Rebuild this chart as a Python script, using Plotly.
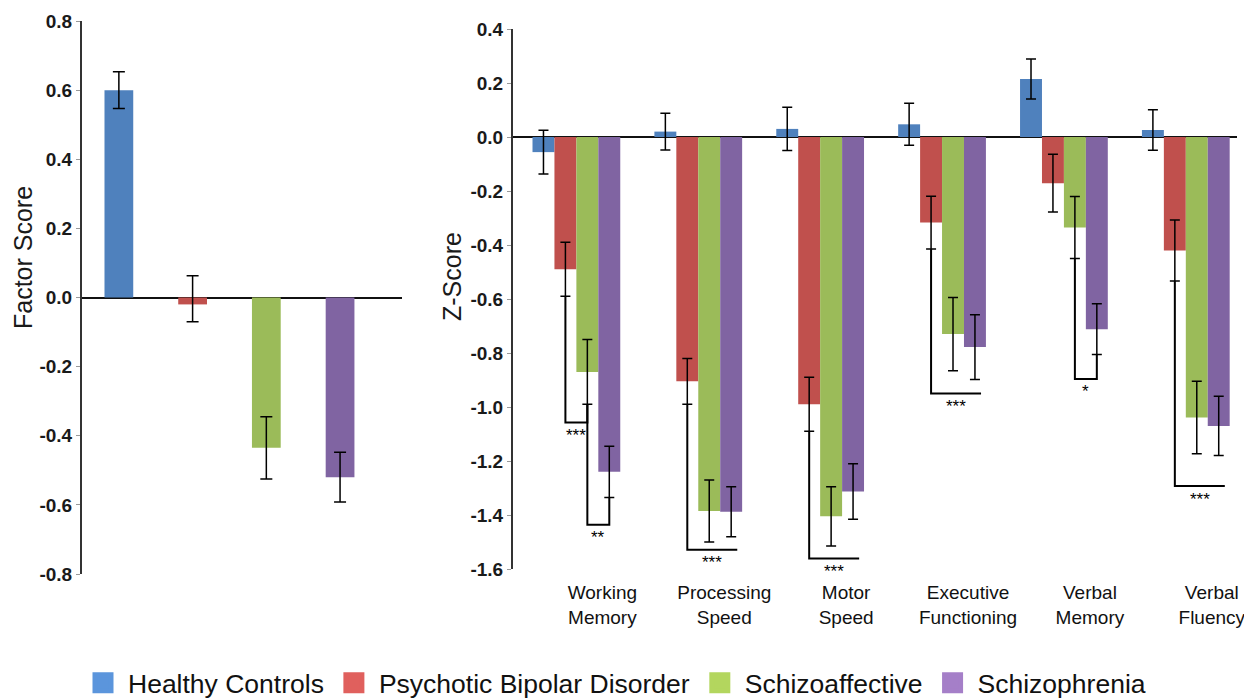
import plotly.graph_objects as go

# ---------------- data ----------------
groups = ["Healthy Controls", "Psychotic Bipolar Disorder", "Schizoaffective", "Schizophrenia"]
bar_colors = ["#4f81bd", "#c0504d", "#9bbb59", "#8064a2"]
legend_colors = ["#5b95dc", "#e0605d", "#b3d65e", "#a57fc8"]

# left panel: factor scores
factor_scores = [0.60, -0.02, -0.435, -0.52]
factor_err_plus = [0.053, 0.083, 0.09, 0.072]
factor_err_minus = [0.053, 0.05, 0.09, 0.072]
factor_ticks = [0.8, 0.6, 0.4, 0.2, 0.0, -0.2, -0.4, -0.6, -0.8]

# right panel: domain z-scores
domains = ["Working<br>Memory", "Processing<br>Speed", "Motor<br>Speed",
           "Executive<br>Functioning", "Verbal<br>Memory", "Verbal<br>Fluency"]
z_healthy = [-0.056, 0.02, 0.03, 0.047, 0.215, 0.026]
z_healthy_err = [0.081, 0.068, 0.08, 0.078, 0.074, 0.075]
z_bipolar = [-0.49, -0.905, -0.99, -0.317, -0.171, -0.42]
z_bipolar_err = [0.10, 0.085, 0.10, 0.098, 0.107, 0.113]
z_schizoaff = [-0.87, -1.385, -1.405, -0.73, -0.335, -1.039]
z_schizoaff_err = [0.12, 0.115, 0.11, 0.136, 0.115, 0.134]
z_schizo = [-1.24, -1.388, -1.313, -0.778, -0.712, -1.07]
z_schizo_err = [0.095, 0.093, 0.103, 0.12, 0.094, 0.11]
z_ticks = [0.4, 0.2, 0.0, -0.2, -0.4, -0.6, -0.8, -1.0, -1.2, -1.4, -1.6]

# significance brackets (domain index, from group, to group, bracket level, label, closed)
sig_domain = [0, 0, 1, 2, 3, 4, 5]
sig_from = [1, 2, 1, 1, 1, 2, 1]
sig_to = [2, 3, 3, 3, 3, 3, 3]
sig_level = [-1.057, -1.436, -1.529, -1.561, -0.95, -0.896, -1.293]
sig_label = ["***", "**", "***", "***", "***", "*", "***"]
sig_closed = [True, True, False, False, False, True, False]

# ---------------- styling constants ----------------
FONT = "Liberation Sans, Arial, sans-serif"
PAGE_OFF = 8                       # default page body margin
W, H = 1252 - PAGE_OFF, 700 - PAGE_OFF
BARGAP = 0.28
N_SERIES = 4
BAR_W = (1 - BARGAP) / N_SERIES
OVERHANG = 0.05


def px_x(p):
    return (p - PAGE_OFF) / W


def px_y(p):
    return 1 - (p - PAGE_OFF) / H


def offset(s):
    return (s - (N_SERIES - 1) / 2) * BAR_W


err_style = dict(color="black", thickness=1.5, width=5)

fig = go.Figure()

# left panel bars
fig.add_trace(go.Bar(
    x=list(range(len(factor_scores))), y=factor_scores,
    marker=dict(color=bar_colors, line=dict(width=0)),
    width=0.39,
    error_y=dict(type="data", symmetric=False, array=factor_err_plus,
                 arrayminus=factor_err_minus, color="black", thickness=1.5, width=6),
    xaxis="x", yaxis="y", showlegend=False, hoverinfo="skip"))

# right panel bars
z_values = [z_healthy, z_bipolar, z_schizoaff, z_schizo]
z_errors = [z_healthy_err, z_bipolar_err, z_schizoaff_err, z_schizo_err]
for name, vals, errs, col in zip(groups, z_values, z_errors, bar_colors):
    fig.add_trace(go.Bar(
        x=list(range(len(domains))), y=vals, name=name,
        marker=dict(color=col, line=dict(width=0)),
        error_y=dict(type="data", array=errs, **err_style),
        xaxis="x2", yaxis="y2", showlegend=False, hoverinfo="skip"))

# significance brackets
annotations = []
for d, a, b, lev, lab, closed in zip(sig_domain, sig_from, sig_to, sig_level, sig_label, sig_closed):
    xa = d + offset(a)
    xb = d + offset(b)
    ya = z_values[a][d] - z_errors[a][d]
    if closed:
        yb = z_values[b][d] - z_errors[b][d]
        xs = [xa, xa, xb, xb]
        ys = [ya, lev, lev, yb]
        xend = xb
    else:
        xend = xb + OVERHANG
        xs = [xa, xa, xend]
        ys = [ya, lev, lev]
    fig.add_trace(go.Scatter(x=xs, y=ys, mode="lines",
                             line=dict(color="black", width=2),
                             xaxis="x2", yaxis="y2", showlegend=False, hoverinfo="skip"))
    annotations.append(dict(x=(xa + xend) / 2, y=lev, xref="x2", yref="y2",
                            text=lab, showarrow=False, xanchor="center", yanchor="middle",
                            yshift=-13,
                            font=dict(family=FONT, size=17, color="black")))

# legend entries
for name, col in zip(groups, legend_colors):
    fig.add_trace(go.Scatter(x=[None], y=[None], mode="markers", name=name,
                             marker=dict(symbol="square", size=16, color=col,
                                         line=dict(color=col, width=5)),
                             xaxis="x2", yaxis="y2", showlegend=True))

# axis titles
annotations.append(dict(x=px_x(23), y=px_y(258), xref="paper", yref="paper",
                        xanchor="center", yanchor="middle",
                        text="Factor Score", textangle=-90, showarrow=False,
                        font=dict(family=FONT, size=25, color="#1a1a1a")))
annotations.append(dict(x=px_x(452), y=px_y(277), xref="paper", yref="paper",
                        xanchor="center", yanchor="middle",
                        text="Z-Score", textangle=-90, showarrow=False,
                        font=dict(family=FONT, size=25, color="#1a1a1a")))

tickfont = dict(family=FONT, size=19, color="#1a1a1a", weight="bold")

fig.update_layout(
    width=W, height=H,
    margin=dict(l=0, r=0, t=0, b=0, autoexpand=False),
    paper_bgcolor="white", plot_bgcolor="white",
    barmode="group", bargap=BARGAP, bargroupgap=0,
    font=dict(family=FONT, color="#1a1a1a"),
    xaxis=dict(domain=[px_x(82), px_x(402)], range=[-0.5, 3.84],
               showticklabels=False, showline=False, zeroline=False,
               showgrid=False, ticks="", anchor="y"),
    yaxis=dict(domain=[px_y(574), px_y(21)], range=[-0.8, 0.8],
               tickvals=factor_ticks, ticktext=[f"{v:.1f}" for v in factor_ticks],
               tickfont=tickfont, showline=True, linecolor="#333", linewidth=2,
               ticks="outside", ticklen=4, tickcolor="#999", tickwidth=1,
               zeroline=True, zerolinecolor="#111", zerolinewidth=1.5,
               showgrid=False, anchor="x", automargin=False),
    xaxis2=dict(domain=[px_x(513), px_x(1237)], range=[-0.52, 5.42],
                tickvals=list(range(len(domains))), ticktext=domains,
                tickfont=dict(family=FONT, size=19, color="#111"),
                ticklabelshift=26, ticklabelstandoff=10,
                showline=False, zeroline=False, showgrid=False, ticks="",
                anchor="y2", automargin=False),
    yaxis2=dict(domain=[px_y(569), px_y(29)], range=[-1.6, 0.4],
                tickvals=z_ticks, ticktext=[f"{v:.1f}" for v in z_ticks],
                tickfont=tickfont, showline=True, linecolor="#333", linewidth=2,
                ticks="outside", ticklen=4, tickcolor="#999", tickwidth=1,
                zeroline=True, zerolinecolor="#111", zerolinewidth=1.5,
                showgrid=False, anchor="x2", automargin=False),
    legend=dict(orientation="h", x=px_x(78), y=px_y(683),
                xanchor="left", yanchor="middle", itemwidth=40,
                font=dict(family=FONT, size=26.5, color="#111"),
                bgcolor="rgba(0,0,0,0)", itemclick=False, itemdoubleclick=False),
    annotations=annotations,
)

fig.write_html("out.html")
